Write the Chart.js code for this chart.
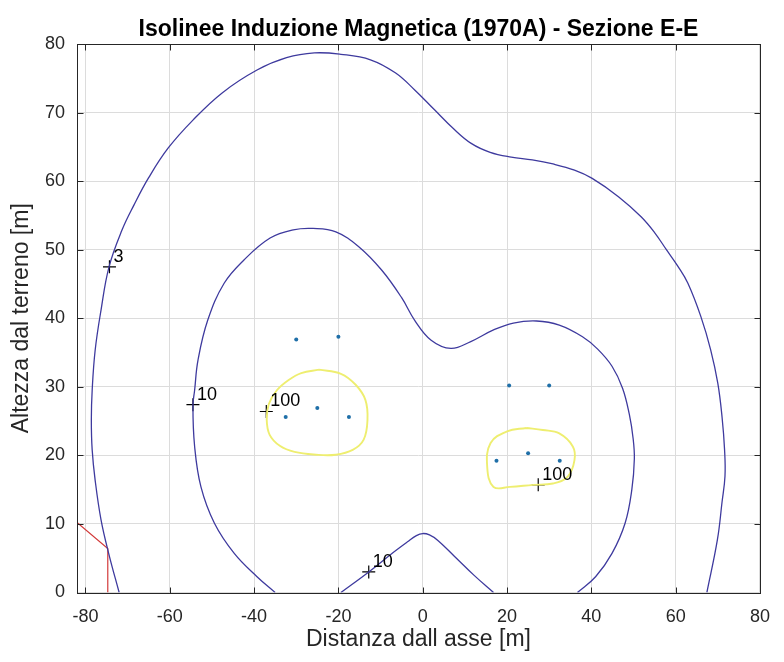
<!DOCTYPE html>
<html>
<head>
<meta charset="utf-8">
<title>Isolinee Induzione Magnetica</title>
<script src="https://cdn.jsdelivr.net/npm/chart.js@4.4.1/dist/chart.umd.min.js"></script>
<style>
  html, body { margin: 0; padding: 0; background: #ffffff; }
  #wrap { width: 784px; height: 662px; }
</style>
</head>
<body>
<div id="wrap"><canvas id="chart" width="784" height="662"></canvas></div>
<script>
// Axis ticks
const xTicks = [-80, -60, -40, -20, 0, 20, 40, 60, 80];
const yTicks = [0, 10, 20, 30, 40, 50, 60, 70, 80];

// Isoline B = 3 uT (outer)
const iso3X = [-72.0, -74.4, -76.3, -77.7, -78.4, -78.6, -78.4, -77.7, -76.3, -74.4, -71.3, -68.5, -65.0, -60.4, -54.5, -47.5, -39.3, -32.3, -25.7, -19.4, -12.4, -6.5, -1.9, 2.8, 7.2, 11.5, 16.0, 21.0, 26.0, 30.9, 36.0, 40.2, 46.5, 51.8, 55.0, 57.8, 60.5, 62.9, 66.0, 68.3, 70.0, 71.0, 71.6, 71.7, 71.0, 69.9, 67.4];
const iso3Y = [0.0, 5.5, 10.6, 16.4, 20.8, 25.2, 29.5, 35.3, 41.2, 47.5, 52.9, 56.5, 60.5, 64.8, 68.9, 72.9, 76.2, 78.0, 78.7, 78.5, 77.7, 75.8, 73.3, 70.4, 67.7, 65.5, 64.2, 63.5, 63.1, 62.5, 61.6, 60.4, 57.7, 54.8, 52.5, 50.0, 47.6, 45.1, 40.2, 35.4, 30.5, 25.6, 20.8, 17.0, 13.2, 7.7, 0.0];

// Isoline B = 10 uT (main branch)
const iso10X = [-35.0, -39.3, -44.7, -49.4, -52.6, -54.1, -54.5, -54.1, -53.3, -51.0, -47.1, -42.4, -36.2, -30.7, -26.0, -20.6, -15.1, -9.7, -5.0, -1.9, 2.0, 6.7, 11.4, 16.8, 21.5, 27.0, 32.4, 37.9, 41.5, 44.9, 47.4, 49.0, 49.9, 50.2, 49.6, 48.0, 44.9, 41.0, 36.7];
const iso10Y = [0.0, 2.3, 5.7, 10.1, 15.4, 21.3, 27.3, 29.5, 33.9, 39.7, 45.1, 48.5, 51.7, 52.9, 53.1, 52.6, 50.4, 47.0, 43.0, 39.7, 36.8, 35.6, 36.6, 38.3, 39.3, 39.6, 39.0, 37.3, 35.5, 33.0, 29.8, 26.0, 22.5, 19.5, 15.0, 10.1, 5.7, 2.3, 0.0];

// Isoline B = 10 uT (branch near ground, between the two lines)
const iso10bX = [-19.4, -12.8, -7.3, -3.6, -1.5, 0.0, 1.6, 3.6, 7.5, 12.2, 16.8];
const iso10bY = [0.0, 3.0, 5.7, 7.4, 8.3, 8.6, 8.4, 7.6, 5.3, 2.5, 0.0];

// Isoline B = 100 uT around the left line
const iso100aX = [-24.6, -19.4, -15.9, -13.6, -13.1, -14.0, -16.6, -20.6, -25.3, -30.4, -33.9, -36.3, -37.0, -36.5, -34.6, -31.8, -28.8, -24.6];
const iso100aY = [32.5, 31.9, 30.3, 28.1, 25.2, 22.3, 20.8, 20.1, 20.1, 20.5, 21.4, 23.0, 25.2, 27.5, 29.5, 31.0, 32.0, 32.5];

// Isoline B = 100 uT around the right line
const iso100bX = [24.6, 28.5, 32.4, 35.6, 36.0, 34.4, 30.9, 26.2, 20.7, 16.8, 15.3, 16.1, 20.0, 24.6];
const iso100bY = [24.0, 23.7, 23.2, 21.3, 19.3, 16.9, 15.9, 15.7, 15.4, 15.4, 18.3, 21.8, 23.5, 24.0];

// Conductor positions
const condX = [-30.0, -20.0, -32.5, -25.0, -17.5, 20.5, 30.0, 17.5, 25.0, 32.5];
const condY = [36.9, 37.3, 25.6, 26.9, 25.6, 30.2, 30.2, 19.2, 20.3, 19.2];

// Building outline (red)
const edgeX = [-82.0, -74.7, -74.7];
const edgeY = [10.2, 6.4, 0.0];

// Contour labels
const labelX = [-74.3, -54.5, -37.1, -12.8, 27.4];
const labelY = [47.5, 27.4, 26.4, 3.0, 15.7];
const labelText = ['3', '10', '100', '10', '100'];

const zip = (xs, ys) => xs.map((x, i) => ({ x: x, y: ys[i] }));

const TEXT = '#262626';
const FONT = '"Liberation Sans", Arial, Helvetica, sans-serif';

const lineSet = (data, color, width) => ({
  data: data, showLine: true, borderColor: color, borderWidth: width,
  pointRadius: 0, pointHoverRadius: 0, tension: 0.4, fill: false
});

// white background
const bgPlugin = {
  id: 'bg',
  beforeDraw(chart) {
    const ctx = chart.ctx;
    ctx.save();
    ctx.fillStyle = '#ffffff';
    ctx.fillRect(0, 0, chart.width, chart.height);
    ctx.restore();
  }
};

// axes box with inward ticks on all four sides
const boxPlugin = {
  id: 'box',
  afterDatasetsDraw(chart) {
    const { ctx, chartArea: a, scales } = chart;
    const L = Math.round(a.left) + 0.5, R = Math.round(a.right) + 0.5;
    const T = Math.round(a.top) + 0.5, B = Math.round(a.bottom) + 0.5;
    ctx.save();
    ctx.strokeStyle = TEXT;
    ctx.lineWidth = 1;
    ctx.strokeRect(L, T, R - L, B - T);
    ctx.beginPath();
    const tl = 6;
    xTicks.forEach(v => {
      const px = Math.round(scales.x.getPixelForValue(v)) + 0.5;
      ctx.moveTo(px, B); ctx.lineTo(px, B - tl);
      ctx.moveTo(px, T); ctx.lineTo(px, T + tl);
    });
    yTicks.forEach(v => {
      const py = Math.round(scales.y.getPixelForValue(v)) + 0.5;
      ctx.moveTo(L, py); ctx.lineTo(L + tl, py);
      ctx.moveTo(R, py); ctx.lineTo(R - tl, py);
    });
    ctx.stroke();
    ctx.restore();
  }
};

// level labels next to the "+" markers
const labelPlugin = {
  id: 'levels',
  afterDatasetsDraw(chart) {
    const { ctx, scales } = chart;
    ctx.save();
    ctx.fillStyle = '#000000';
    ctx.font = '18px ' + FONT;
    ctx.textAlign = 'left';
    ctx.textBaseline = 'alphabetic';
    labelText.forEach((t, i) => {
      const px = scales.x.getPixelForValue(labelX[i]);
      const py = scales.y.getPixelForValue(labelY[i]);
      ctx.fillText(t, px + 4, py - 5);
    });
    ctx.restore();
  }
};

new Chart(document.getElementById('chart'), {
  type: 'scatter',
  data: {
    datasets: [
      lineSet(zip(iso3X, iso3Y), '#3e3a9e', 1.3),
      lineSet(zip(iso10X, iso10Y), '#3e3a9e', 1.3),
      lineSet(zip(iso10bX, iso10bY), '#3e3a9e', 1.3),
      lineSet(zip(iso100aX, iso100aY), '#eeee70', 1.9),
      lineSet(zip(iso100bX, iso100bY), '#eeee70', 1.9),
      Object.assign(lineSet(zip(edgeX, edgeY), '#d23a3a', 1.2), { tension: 0 }),
      {
        data: zip(condX, condY), showLine: false, pointStyle: 'circle',
        pointRadius: 2, pointBackgroundColor: '#1f6fa8', pointBorderWidth: 0
      },
      {
        data: zip(labelX, labelY), showLine: false, pointStyle: 'cross',
        pointRadius: 6.5, pointBorderColor: '#000000', pointBorderWidth: 1.2
      }
    ]
  },
  options: {
    responsive: false,
    animation: false,
    devicePixelRatio: 1,
    layout: { padding: { top: 0, right: 14, bottom: 0, left: 0 } },
    plugins: {
      legend: { display: false },
      tooltip: { enabled: false },
      title: {
        display: true,
        fullSize: false,
        text: 'Isolinee Induzione Magnetica (1970A) - Sezione E-E',
        color: '#000000',
        font: { family: FONT, size: 23, weight: 'bold', lineHeight: 1.2 },
        padding: { top: 16.2, bottom: 0.2 }
      }
    },
    scales: {
      x: {
        type: 'linear', min: -82, max: 80,
        afterBuildTicks: s => { s.ticks = xTicks.map(v => ({ value: v })); },
        afterFit: s => { s.height = 69.5; },
        grid: { color: '#dcdcdc', drawTicks: false, lineWidth: 1 },
        border: { display: false },
        ticks: { color: TEXT, font: { family: FONT, size: 18 }, padding: 14, maxRotation: 0, autoSkip: false },
        title: { display: true, text: 'Distanza dall asse [m]', color: TEXT,
                 font: { family: FONT, size: 23, lineHeight: 1.2 }, padding: { top: 0, bottom: 8.2 } }
      },
      y: {
        type: 'linear', min: 0, max: 80,
        afterBuildTicks: s => { s.ticks = yTicks.map(v => ({ value: v })); },
        afterFit: s => { s.width = 77; },
        grid: { color: '#dcdcdc', drawTicks: false, lineWidth: 1 },
        border: { display: false },
        ticks: { color: TEXT, font: { family: FONT, size: 18 }, padding: 12, autoSkip: false },
        title: { display: true, text: 'Altezza dal terreno [m]', color: TEXT,
                 font: { family: FONT, size: 23, lineHeight: 1.2 }, padding: { top: 8.2, bottom: 0 } }
      }
    }
  },
  plugins: [bgPlugin, boxPlugin, labelPlugin]
});
</script>
</body>
</html>
